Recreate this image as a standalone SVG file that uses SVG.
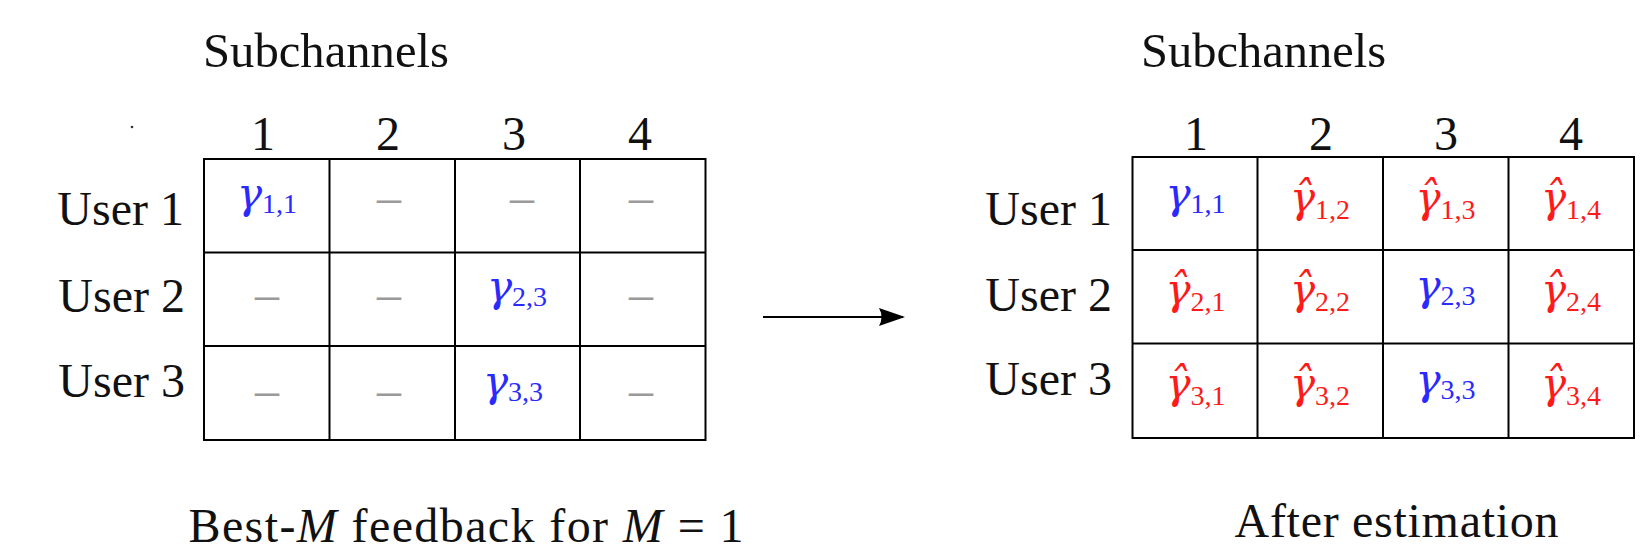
<svg xmlns="http://www.w3.org/2000/svg" width="1642" height="558" viewBox="0 0 1642 558">
<defs>
<marker id="ah" markerWidth="26" markerHeight="18" refX="24" refY="9" orient="auto" markerUnits="userSpaceOnUse">
<path d="M0,0 L26,9 L0,18 Q5,9 0,0 Z" fill="#000"/>
</marker>
</defs>
<rect width="1642" height="558" fill="#fff"/>

<g id="left-header" fill="#111">
<text style="font-family:'Liberation Serif',serif" font-size="48" x="203" y="66.5" textLength="246" lengthAdjust="spacingAndGlyphs">Subchannels</text>
<circle cx="132" cy="127" r="1.3" fill="#333"/>
<text style="font-family:'Liberation Serif',serif" font-size="48" text-anchor="middle" x="263" y="150">1</text>
<text style="font-family:'Liberation Serif',serif" font-size="48" text-anchor="middle" x="388" y="150">2</text>
<text style="font-family:'Liberation Serif',serif" font-size="48" text-anchor="middle" x="514" y="150">3</text>
<text style="font-family:'Liberation Serif',serif" font-size="48" text-anchor="middle" x="640" y="150">4</text>
<text style="font-family:'Liberation Serif',serif" font-size="48" text-anchor="end" x="184" y="225">User 1</text>
<text style="font-family:'Liberation Serif',serif" font-size="48" text-anchor="end" x="185" y="312">User 2</text>
<text style="font-family:'Liberation Serif',serif" font-size="48" text-anchor="end" x="185" y="397">User 3</text>
</g>
<g id="left-grid" fill="#fff" stroke="#000" stroke-width="2">
<rect x="204" y="159" width="501.5" height="281"/>
<path d="M329.5,159V440M455,159V440M580,159V440M204,252.5H705.5M204,346H705.5" fill="none"/>
</g>
<g id="L11"><text style="font-family:'Liberation Serif',serif" font-size="28" text-anchor="middle" fill="#2a2aff" x="267" y="208"><tspan style="font-family:'DejaVu Serif',serif" font-size="42" font-style="italic">γ</tspan><tspan dy="5">1,1</tspan></text></g>
<g id="L12"><text style="font-family:'Liberation Serif',serif" font-size="48" text-anchor="middle" fill="#9a9a9a" x="389" y="213">–</text></g>
<g id="L13"><text style="font-family:'Liberation Serif',serif" font-size="48" text-anchor="middle" fill="#9a9a9a" x="522" y="213">–</text></g>
<g id="L14"><text style="font-family:'Liberation Serif',serif" font-size="48" text-anchor="middle" fill="#9a9a9a" x="641" y="213">–</text></g>
<g id="L21"><text style="font-family:'Liberation Serif',serif" font-size="48" text-anchor="middle" fill="#9a9a9a" x="267" y="310">–</text></g>
<g id="L22"><text style="font-family:'Liberation Serif',serif" font-size="48" text-anchor="middle" fill="#9a9a9a" x="389" y="310">–</text></g>
<g id="L23"><text style="font-family:'Liberation Serif',serif" font-size="28" text-anchor="middle" fill="#2a2aff" x="517" y="301"><tspan style="font-family:'DejaVu Serif',serif" font-size="42" font-style="italic">γ</tspan><tspan dy="5">2,3</tspan></text></g>
<g id="L24"><text style="font-family:'Liberation Serif',serif" font-size="48" text-anchor="middle" fill="#9a9a9a" x="641" y="310">–</text></g>
<g id="L31"><text style="font-family:'Liberation Serif',serif" font-size="48" text-anchor="middle" fill="#9a9a9a" x="267" y="406">–</text></g>
<g id="L32"><text style="font-family:'Liberation Serif',serif" font-size="48" text-anchor="middle" fill="#9a9a9a" x="389" y="406">–</text></g>
<g id="L33"><text style="font-family:'Liberation Serif',serif" font-size="28" text-anchor="middle" fill="#2a2aff" x="513" y="396"><tspan style="font-family:'DejaVu Serif',serif" font-size="42" font-style="italic">γ</tspan><tspan dy="5">3,3</tspan></text></g>
<g id="L34"><text style="font-family:'Liberation Serif',serif" font-size="48" text-anchor="middle" fill="#9a9a9a" x="641" y="406">–</text></g>
<g id="left-caption">
<text style="font-family:'Liberation Serif',serif" font-size="48" fill="#111" x="188.5" y="542" textLength="555" lengthAdjust="spacing">Best-<tspan font-style="italic">M</tspan> feedback for <tspan font-style="italic">M</tspan> = 1</text>
</g>

<g id="connectors">
<line x1="763" y1="317" x2="903" y2="317" stroke="#000" stroke-width="2.2" marker-end="url(#ah)"/>
</g>

<g id="right-header" fill="#111">
<text style="font-family:'Liberation Serif',serif" font-size="48" x="1141" y="66.5" textLength="245" lengthAdjust="spacingAndGlyphs">Subchannels</text>
<text style="font-family:'Liberation Serif',serif" font-size="48" text-anchor="middle" x="1196" y="149.5">1</text>
<text style="font-family:'Liberation Serif',serif" font-size="48" text-anchor="middle" x="1321" y="149.5">2</text>
<text style="font-family:'Liberation Serif',serif" font-size="48" text-anchor="middle" x="1446" y="149.5">3</text>
<text style="font-family:'Liberation Serif',serif" font-size="48" text-anchor="middle" x="1571" y="149.5">4</text>
<text style="font-family:'Liberation Serif',serif" font-size="48" text-anchor="end" x="1112" y="225">User 1</text>
<text style="font-family:'Liberation Serif',serif" font-size="48" text-anchor="end" x="1112" y="311">User 2</text>
<text style="font-family:'Liberation Serif',serif" font-size="48" text-anchor="end" x="1112" y="395">User 3</text>
</g>
<g id="right-grid" fill="#fff" stroke="#000" stroke-width="2">
<rect x="1132.5" y="157" width="501.5" height="281"/>
<path d="M1257.5,157V438M1383,157V438M1508.5,157V438M1132.5,250H1634M1132.5,343.5H1634" fill="none"/>
</g>
<g id="R11"><text style="font-family:'Liberation Serif',serif" font-size="28" text-anchor="middle" fill="#2a2aff" x="1195.5" y="207.5"><tspan style="font-family:'DejaVu Serif',serif" font-size="42" font-style="italic">γ</tspan><tspan dy="5">1,1</tspan></text></g>
<g id="R12"><text style="font-family:'Liberation Serif',serif" font-size="28" text-anchor="middle" fill="#ff1a1a" x="1320" y="212"><tspan style="font-family:'DejaVu Serif',serif" font-size="42" font-style="italic">γ&#770;</tspan><tspan dy="7">1,2</tspan></text></g>
<g id="R13"><text style="font-family:'Liberation Serif',serif" font-size="28" text-anchor="middle" fill="#ff1a1a" x="1445.5" y="212"><tspan style="font-family:'DejaVu Serif',serif" font-size="42" font-style="italic">γ&#770;</tspan><tspan dy="7">1,3</tspan></text></g>
<g id="R14"><text style="font-family:'Liberation Serif',serif" font-size="28" text-anchor="middle" fill="#ff1a1a" x="1571" y="212"><tspan style="font-family:'DejaVu Serif',serif" font-size="42" font-style="italic">γ&#770;</tspan><tspan dy="7">1,4</tspan></text></g>
<g id="R21"><text style="font-family:'Liberation Serif',serif" font-size="28" text-anchor="middle" fill="#ff1a1a" x="1195.5" y="304"><tspan style="font-family:'DejaVu Serif',serif" font-size="42" font-style="italic">γ&#770;</tspan><tspan dy="7">2,1</tspan></text></g>
<g id="R22"><text style="font-family:'Liberation Serif',serif" font-size="28" text-anchor="middle" fill="#ff1a1a" x="1320" y="304"><tspan style="font-family:'DejaVu Serif',serif" font-size="42" font-style="italic">γ&#770;</tspan><tspan dy="7">2,2</tspan></text></g>
<g id="R23"><text style="font-family:'Liberation Serif',serif" font-size="28" text-anchor="middle" fill="#2a2aff" x="1445.5" y="299.5"><tspan style="font-family:'DejaVu Serif',serif" font-size="42" font-style="italic">γ</tspan><tspan dy="5">2,3</tspan></text></g>
<g id="R24"><text style="font-family:'Liberation Serif',serif" font-size="28" text-anchor="middle" fill="#ff1a1a" x="1571" y="304"><tspan style="font-family:'DejaVu Serif',serif" font-size="42" font-style="italic">γ&#770;</tspan><tspan dy="7">2,4</tspan></text></g>
<g id="R31"><text style="font-family:'Liberation Serif',serif" font-size="28" text-anchor="middle" fill="#ff1a1a" x="1195.5" y="397.5"><tspan style="font-family:'DejaVu Serif',serif" font-size="42" font-style="italic">γ&#770;</tspan><tspan dy="7">3,1</tspan></text></g>
<g id="R32"><text style="font-family:'Liberation Serif',serif" font-size="28" text-anchor="middle" fill="#ff1a1a" x="1320" y="397.5"><tspan style="font-family:'DejaVu Serif',serif" font-size="42" font-style="italic">γ&#770;</tspan><tspan dy="7">3,2</tspan></text></g>
<g id="R33"><text style="font-family:'Liberation Serif',serif" font-size="28" text-anchor="middle" fill="#2a2aff" x="1445.5" y="393.5"><tspan style="font-family:'DejaVu Serif',serif" font-size="42" font-style="italic">γ</tspan><tspan dy="5">3,3</tspan></text></g>
<g id="R34"><text style="font-family:'Liberation Serif',serif" font-size="28" text-anchor="middle" fill="#ff1a1a" x="1571" y="397.5"><tspan style="font-family:'DejaVu Serif',serif" font-size="42" font-style="italic">γ&#770;</tspan><tspan dy="7">3,4</tspan></text></g>
<g id="right-caption">
<text style="font-family:'Liberation Serif',serif" font-size="48" fill="#111" x="1234.5" y="537" textLength="324" lengthAdjust="spacing">After estimation</text>
</g>
</svg>
